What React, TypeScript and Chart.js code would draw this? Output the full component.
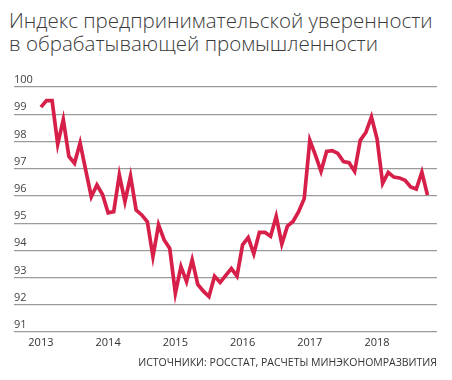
import React, { useEffect, useRef } from "react";
import { Chart, registerables } from "chart.js";

Chart.register(...registerables);

const titleLines = ["Индекс предпринимательской уверенности", "в обрабатывающей промышленности"];
const sourceText = "ИСТОЧНИКИ: РОССТАТ, РАСЧЕТЫ МИНЭКОНОМРАЗВИТИЯ";

const years = [2013, 2014, 2015, 2016, 2017, 2018];
const yTicks = [91, 92, 93, 94, 95, 96, 97, 98, 99, 100];

// Monthly index values, January 2013 – October 2018
const values2013 = [99.26, 99.5, 99.5, 97.9, 98.8, 97.45, 97.2, 97.95, 96.95, 95.97, 96.4, 96.05];
const values2014 = [95.38, 95.42, 96.77, 95.79, 96.73, 95.48, 95.3, 95.05, 93.77, 94.94, 94.38, 94.07];
const values2015 = [92.42, 93.4, 92.85, 93.65, 92.75, 92.5, 92.3, 93.05, 92.82, 93.08, 93.33, 93.05];
const values2016 = [94.2, 94.47, 93.87, 94.66, 94.66, 94.52, 95.25, 94.23, 94.89, 95.06, 95.42, 95.9];
const values2017 = [98.04, 97.5, 96.9, 97.63, 97.66, 97.56, 97.26, 97.22, 96.9, 98.04, 98.33, 98.9];
const values2018 = [98.1, 96.46, 96.86, 96.69, 96.66, 96.57, 96.33, 96.25, 96.87, 96.03];

const values = [...values2013, ...values2014, ...values2015, ...values2016, ...values2017, ...values2018];

const tickFont = { family: "'Open Sans', sans-serif", size: 11 };

export default function App() {
  const ref = useRef<HTMLCanvasElement>(null);

  useEffect(() => {
    if (!ref.current) return;
    const points = values.map((v, i) => ({ x: i, y: v }));
    const chart = new Chart(ref.current, {
      type: "line",
      data: {
        datasets: [
          {
            data: points,
            borderColor: "#d6204a",
            borderWidth: 3.7,
            pointRadius: 0,
            tension: 0,
            fill: false,
          },
        ],
      },
      options: {
        animation: false,
        responsive: false,
        maintainAspectRatio: false,
        layout: { padding: { left: 14, right: 15, top: 87, bottom: 0 } },
        plugins: {
          legend: { display: false },
          tooltip: { enabled: false },
          title: { display: false },
        },
        scales: {
          x: {
            type: "linear",
            min: -4.8,
            max: 70.7,
            grid: { display: false, drawTicks: false },
            border: { display: false },
            afterBuildTicks: (s: any) => {
              s.ticks = years.map((_, k) => ({ value: k * 12 }));
            },
            afterFit: (s: any) => {
              s.height = 48;
            },
            ticks: {
              autoSkip: false,
              maxRotation: 0,
              padding: 4,
              color: "#333333",
              font: tickFont,
              callback: (v: any) => String(years[Math.round(Number(v) / 12)]),
            },
          },
          y: {
            type: "linear",
            min: 91,
            max: 100,
            afterBuildTicks: (s: any) => {
              s.ticks = yTicks.map((v) => ({ value: v }));
            },
            afterFit: (s: any) => {
              s.width = 0;
            },
            grid: { color: "#9b9b9b", lineWidth: 1.2, drawTicks: false },
            border: { display: false },
            ticks: {
              mirror: true,
              padding: 0,
              labelOffset: -7,
              color: "#444444",
              font: tickFont,
            },
          },
        },
      },
    });
    return () => chart.destroy();
  }, []);

  return (
    <div style={{ position: "absolute", left: 0, top: 0, width: 452, height: 380, background: "#fff", overflow: "hidden" }}>
      <div
        style={{
          position: "absolute",
          left: 9,
          top: 9,
          fontFamily: "'Open Sans', sans-serif",
          fontWeight: 300,
          fontSize: 20.5,
          lineHeight: "23px",
          color: "#3a3a3a",
          whiteSpace: "nowrap",
        }}
      >
        {titleLines.map((t) => (
          <div key={t}>{t}</div>
        ))}
      </div>
      <canvas ref={ref} width={452} height={380} style={{ position: "absolute", left: 0, top: 0, display: "block" }} />
      <div
        style={{
          position: "absolute",
          right: 15,
          top: 355,
          fontFamily: "'Open Sans', sans-serif",
          fontSize: 10.5,
          lineHeight: "14px",
          color: "#333333",
          whiteSpace: "nowrap",
        }}
      >
        {sourceText}
      </div>
    </div>
  );
}
